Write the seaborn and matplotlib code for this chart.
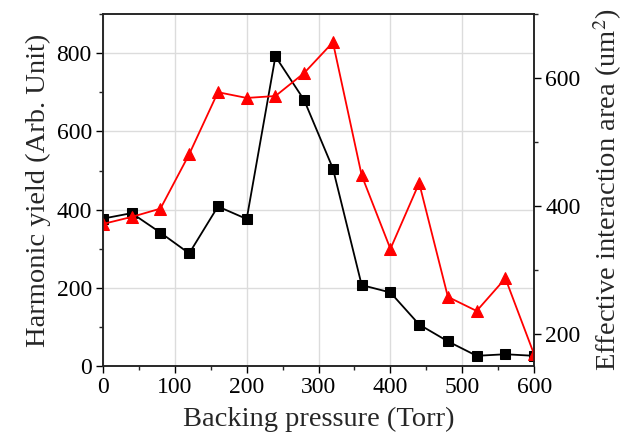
import seaborn as sns
import matplotlib.pyplot as plt
import pandas as pd
from matplotlib.ticker import MultipleLocator

# data
pressure = [0, 40, 80, 120, 160, 200, 240, 280, 320, 360, 400, 440, 480, 520, 560, 600]
harmonic_yield = [377, 391, 341, 288, 408, 376, 792, 680, 505, 207, 188, 106, 63, 26, 30, 26]
interaction_area = [372, 383, 396, 481, 578, 569, 572, 608, 656, 448, 333, 436, 258, 236, 287, 168]

df = pd.DataFrame({'pressure': pressure, 'yield': harmonic_yield, 'area': interaction_area})

sns.set_theme(style='ticks')
plt.rcParams['font.family'] = ['Liberation Serif', 'DejaVu Serif']
plt.rcParams['mathtext.fontset'] = 'stix'

fig = plt.figure(figsize=(6.24, 4.42), dpi=100)
ax = fig.add_axes([0.165, 0.172, 0.691, 0.796])
ax2 = ax.twinx()

sns.lineplot(data=df, x='pressure', y='yield', ax=ax, color='black', marker='s',
             markersize=6.5, markeredgecolor='black', linewidth=1.3)
sns.lineplot(data=df, x='pressure', y='area', ax=ax2, color='red', marker='^',
             markersize=8.5, markeredgecolor='red', linewidth=1.3)

ax.set_xlim(0, 600)
ax.set_ylim(0, 900)
ax2.set_ylim(150, 700)

ax.xaxis.set_major_locator(MultipleLocator(100))
ax.xaxis.set_minor_locator(MultipleLocator(50))
ax.yaxis.set_major_locator(MultipleLocator(200))
ax.yaxis.set_minor_locator(MultipleLocator(100))
ax2.yaxis.set_major_locator(MultipleLocator(200))
ax2.yaxis.set_minor_locator(MultipleLocator(100))

ax.grid(True, which='major', color='#dcdcdc', linewidth=1.0)
ax.set_axisbelow(True)

for a in (ax, ax2):
    a.tick_params(which='major', direction='out', length=5, width=1.0, labelsize=17, colors='black', pad=3)
    a.tick_params(which='minor', direction='out', length=3, width=1.0)
    for s in a.spines.values():
        s.set_color('#222222')
        s.set_linewidth(1.1)
ax.tick_params(top=False, right=False, which='both')
ax2.tick_params(top=False, bottom=False, left=False, which='both')
ax2.xaxis.set_visible(False)

ax.set_xlabel('Backing pressure (Torr)', fontsize=20.5, labelpad=6)
ax.set_ylabel('Harmonic yield (Arb. Unit)', fontsize=20.5, labelpad=4)
ax2.set_ylabel('Effective interaction area (um$^2$)', fontsize=20.5, labelpad=8)

fig.savefig('out.png', dpi=100)
